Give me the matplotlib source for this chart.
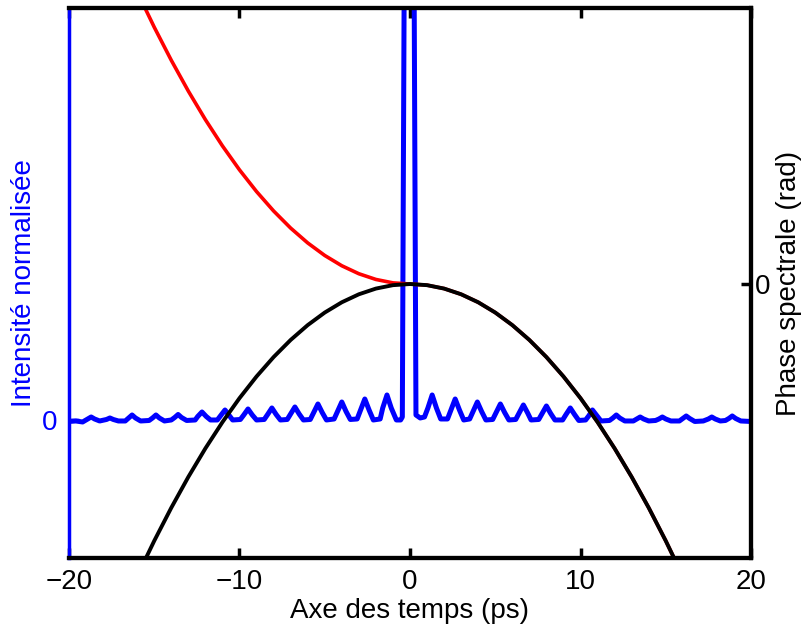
import matplotlib
matplotlib.use("Agg")
import matplotlib.pyplot as plt

plt.rcParams['font.family'] = ['Liberation Sans', 'DejaVu Sans']

# Intensity trace (normalised, central peak clipped far above the frame)
t_int = [-20.0, -19.6, -19.2, -18.9, -18.7, -18.5, -18.2, -17.8, -17.6, -17.4,
         -17.1, -16.7, -16.5, -16.3, -16.1, -15.8, -15.3, -15.1, -14.9, -14.7,
         -14.4, -14.0, -13.8, -13.6, -13.4, -13.1, -12.6, -12.45, -12.2, -11.95,
         -11.7, -11.3, -11.1, -10.85, -10.6, -10.4, -9.95, -9.75, -9.5, -9.25,
         -9.0, -8.55, -8.35, -8.1, -7.85, -7.6, -7.2, -7.0, -6.75, -6.5,
         -6.25, -5.85, -5.65, -5.4, -5.15, -4.9, -4.45, -4.25, -4.0, -3.75,
         -3.5, -3.1, -2.9, -2.65, -2.4, -2.15, -1.75, -1.6, -1.35, -1.1,
         -0.8, -0.55, -0.45, -0.3, -0.05, 0.2, 0.35, 0.6, 0.85, 1.05,
         1.3, 1.55, 1.8, 2.2, 2.4, 2.65, 2.9, 3.15, 3.5, 3.7,
         3.95, 4.2, 4.45, 4.85, 5.05, 5.3, 5.55, 5.8, 6.2, 6.4,
         6.65, 6.9, 7.1, 7.55, 7.75, 8.0, 8.25, 8.5, 8.95, 9.15,
         9.4, 9.65, 9.9, 10.3, 10.5, 10.7, 10.95, 11.2, 11.7, 11.9,
         12.1, 12.3, 12.6, 13.1, 13.3, 13.5, 13.7, 14.0, 14.4, 14.6,
         14.8, 15.0, 15.3, 15.8, 16.0, 16.2, 16.4, 16.7, 17.2, 17.5,
         17.7, 17.9, 18.2, 18.5, 18.7, 18.9, 19.1, 19.4, 20.0]
intensity = [-0.15, -0.1, -0.2, 0.1, 0.3, 0.1, -0.1, 0.05, 0.2, 0.05,
             -0.1, -0.1, 0.2, 0.5, 0.2, -0.1, -0.05, 0.2, 0.5, 0.2,
             -0.1, 0.0, 0.25, 0.55, 0.25, -0.05, 0.0, 0.35, 0.8, 0.35,
             0.0, 0.0, 0.45, 1.0, 0.45, 0.0, 0.05, 0.5, 1.1, 0.5,
             0.0, 0.05, 0.55, 1.2, 0.55, 0.0, 0.05, 0.6, 1.3, 0.6,
             0.0, 0.05, 0.75, 1.6, 0.75, 0.0, 0.1, 0.85, 1.8, 0.85,
             0.05, 0.1, 1.0, 2.1, 1.0, 0.0, 0.1, 1.2, 2.5, 1.2,
             0.0, 0.0, 0.3, 60.0, 1000.0, 60.0, 0.5, 0.2, 0.3, 1.2,
             2.5, 1.2, 0.1, 0.1, 1.0, 2.1, 1.0, 0.0, 0.1, 0.85,
             1.8, 0.85, 0.0, 0.05, 0.75, 1.6, 0.75, 0.0, 0.05, 0.7,
             1.5, 0.7, 0.0, 0.05, 0.65, 1.4, 0.65, 0.0, 0.0, 0.55,
             1.2, 0.55, -0.05, 0.0, 0.45, 1.0, 0.45, -0.1, -0.05, 0.2,
             0.5, 0.2, -0.1, -0.1, 0.1, 0.3, 0.1, -0.1, -0.05, 0.1,
             0.3, 0.1, -0.1, -0.1, 0.15, 0.4, 0.15, -0.15, -0.1, 0.1,
             0.3, 0.1, -0.1, -0.05, 0.15, 0.4, 0.15, -0.1, -0.15]

# Spectral phase (rad)
t_phase = [-16, -15, -14, -13, -12, -11, -10, -9, -8, -7, -6, -5, -4, -3, -2, -1, 0,
           1, 2, 3, 4, 5, 6, 7, 8, 9, 10, 11, 12, 13, 14, 15, 16]
phase_black = [-128.0, -112.5, -98.0, -84.5, -72.0, -60.5, -50.0, -40.5, -32.0, -24.5,
               -18.0, -12.5, -8.0, -4.5, -2.0, -0.5, 0.0,
               -0.5, -2.0, -4.5, -8.0, -12.5, -18.0, -24.5, -32.0, -40.5,
               -50.0, -60.5, -72.0, -84.5, -98.0, -112.5, -128.0]
phase_red = [128.0, 112.5, 98.0, 84.5, 72.0, 60.5, 50.0, 40.5, 32.0, 24.5,
             18.0, 12.5, 8.0, 4.5, 2.0, 0.5, 0.0,
             -0.5, -2.0, -4.5, -8.0, -12.5, -18.0, -24.5, -32.0, -40.5,
             -50.0, -60.5, -72.0, -84.5, -98.0, -112.5, -128.0]

blue = '#0000ff'

fig = plt.figure(figsize=(8.04, 6.35), dpi=100)
ax = fig.add_axes([0.0858, 0.1213, 0.8483, 0.8661])
ax2 = ax.twinx()

ax.plot(t_int, intensity, color=blue, lw=3.6, solid_joinstyle='round',
        solid_capstyle='round')
ax2.plot(t_phase, phase_red, color='#ff0000', lw=2.6)
ax2.plot(t_phase, phase_black, color='black', lw=2.8)

ax.set_xlim(-20, 20)
ax.set_ylim(-13.8, 41.2)
ax2.set_ylim(-120, 120.9)

# Axis labels
ax.set_xlabel('Axe des temps (ps)', fontsize=20, labelpad=2)
ax.set_ylabel('Intensité normalisée', fontsize=20, color=blue, labelpad=4)
ax2.set_ylabel('Phase spectrale (rad)', fontsize=20, labelpad=4)

# Ticks
ax.set_xticks([-20, -10, 0, 10, 20])
ax.tick_params(axis='x', direction='in', top=True, length=7, width=2.5,
               labelsize=20, pad=8)
ax.set_yticks([0])
ax.tick_params(axis='y', direction='in', length=7, width=2.5, colors=blue,
               labelsize=20, pad=8)
ax2.set_yticks([0])
ax2.tick_params(axis='y', direction='in', length=7, width=2.5,
                labelsize=20, pad=3)

# Spines
for s in ['top', 'bottom', 'right']:
    ax.spines[s].set_linewidth(3)
    ax2.spines[s].set_linewidth(3)
ax.spines['left'].set_color(blue)
ax.spines['left'].set_linewidth(2.5)
ax2.spines['left'].set_visible(False)

fig.savefig('out.png', dpi=100)
